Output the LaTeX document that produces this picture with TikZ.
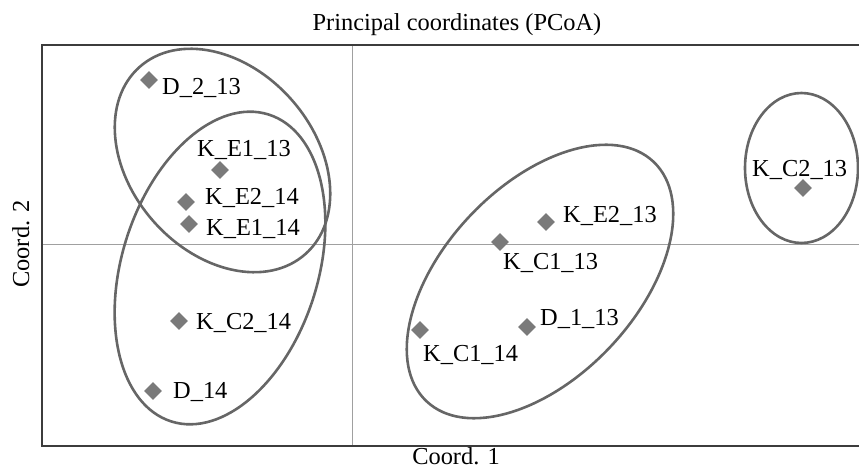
\documentclass[tikz,border=0pt]{standalone}
\usepackage{fontspec}
\setmainfont{Liberation Serif}
\usetikzlibrary{shapes.geometric}
\definecolor{framegray}{HTML}{3C3C3C}
\definecolor{axisgray}{HTML}{A0A0A0}
\definecolor{ringgray}{HTML}{666666}
\definecolor{dotgray}{HTML}{7A7A7A}
\begin{document}
\begin{tikzpicture}[x=1pt,y=1pt,
    sample/.style={shape=diamond,fill=dotgray,inner sep=0pt,minimum size=18pt},
    lbl/.style={anchor=base west,inner sep=0pt,font=\fontsize{24.4}{28}\selectfont},
    ring/.style={draw=ringgray,line width=2.6pt}]
  \useasboundingbox (0,0) rectangle (859,469);

  % frame and axes
  \draw[axisgray,line width=1pt] (352,23) -- (352,424) (42,224) -- (859,224);
  \draw[framegray,line width=1.6pt] (859,424) -- (42,424) -- (42,23) -- (859,23);

  \node[anchor=base,font=\fontsize{24.4}{28}\selectfont] (title) at (457,438) {Principal coordinates (PCoA)};
  \node[anchor=base,inner sep=0pt,font=\fontsize{24.4}{28}\selectfont] (xlab) at (456,5) {Coord. 1};
  \node[anchor=base,rotate=90,font=\fontsize{24.4}{28}\selectfont] (ylab) at (29,225) {Coord. 2};

  % groups
  \draw[ring,rotate around={-48.5:(222.5,308.5)}] (222.5,308.5) ellipse [x radius=125pt,y radius=92pt];
  \draw[ring,rotate around={72.4:(220,201)}] (220,201) ellipse [x radius=161pt,y radius=98pt];
  \draw[ring,rotate around={46.5:(540,187.5)}] (540,187.5) ellipse [x radius=165pt,y radius=96pt];
  \draw[ring] (801.5,301) ellipse [x radius=56.5pt,y radius=75pt];

  % samples
  \node[sample] (d213) at (149,389) {};
  \node[lbl] (d213l) at (162,374) {D\_2\_13};
  \node[sample] (ke113) at (220,299) {};
  \node[lbl] (ke113l) at (197,312) {K\_E1\_13};
  \node[sample] (ke214) at (186,267) {};
  \node[lbl] (ke214l) at (205,264) {K\_E2\_14};
  \node[sample] (ke114) at (189,245) {};
  \node[lbl] (ke114l) at (206,233) {K\_E1\_14};
  \node[sample] (kc214) at (179,148) {};
  \node[lbl] (kc214l) at (196,140) {K\_C2\_14};
  \node[sample] (d14) at (153,78) {};
  \node[lbl] (d14l) at (173,71) {D\_14};
  \node[sample] (ke213) at (546,247) {};
  \node[lbl] (ke213l) at (563,246) {K\_E2\_13};
  \node[sample] (kc113) at (500,227) {};
  \node[lbl] (kc113l) at (503,199) {K\_C1\_13};
  \node[sample] (kc114) at (420,139) {};
  \node[lbl] (kc114l) at (423,108) {K\_C1\_14};
  \node[sample] (d113) at (527,142) {};
  \node[lbl] (d113l) at (540,144) {D\_1\_13};
  \node[sample] (kc213) at (803,281) {};
  \node[lbl] (kc213l) at (752,292) {K\_C2\_13};
\end{tikzpicture}
\end{document}
